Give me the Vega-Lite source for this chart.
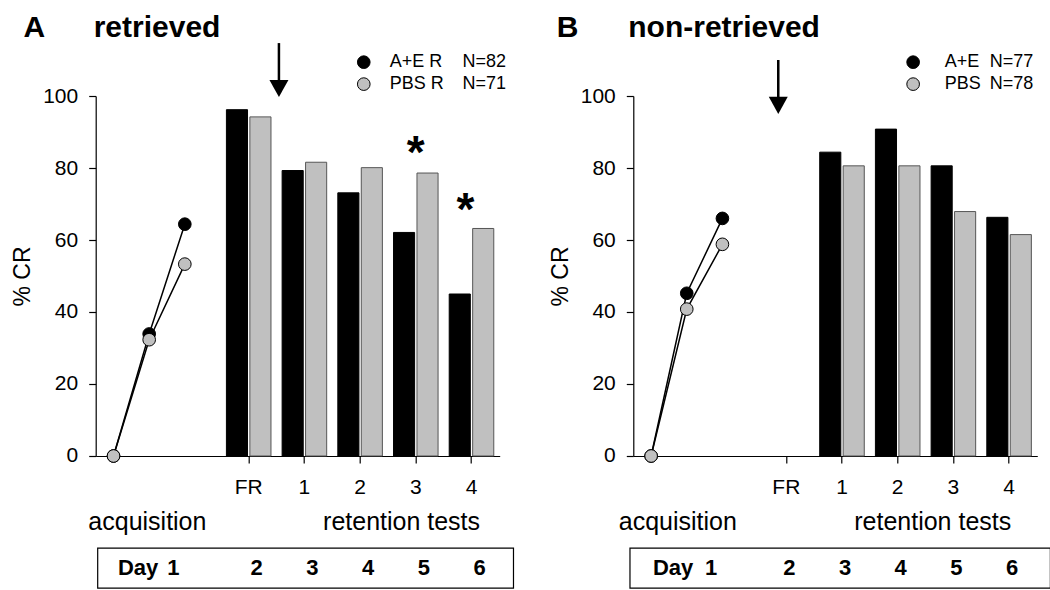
{
  "$schema": "https://vega.github.io/schema/vega-lite/v6.json",
  "background": "white",
  "padding": {"left": 10.7, "top": 12, "right": 0, "bottom": 0},
  "spacing": 133.6,
  "bounds": "flush",
  "config": {
    "font": "Liberation Sans",
    "view": {"stroke": null},
    "axis": {"labelColor": "black", "titleColor": "black", "domainColor": "black", "tickColor": "black", "grid": false, "labelFont": "Liberation Sans", "titleFont": "Liberation Sans"}
  },
  "hconcat": [
    {
      "width": 404,
      "height": 360,
      "encoding": {
        "y": {"field": "v", "type": "quantitative", "scale": {"domain": [0, 100], "nice": false, "zero": false},
          "axis": {"values": [0, 20, 40, 60, 80, 100], "title": "% CR", "tickSize": 7, "labelFontSize": 21, "labelPadding": 11, "titleFontSize": 23, "titleFontWeight": "normal", "titlePadding": 8, "domainWidth": 1.2, "tickWidth": 1.2}}
      },
      "layer": [
        {
          "encoding": {"x": {"field": "pos", "type": "quantitative", "scale": {"domain": [0.5, 11.833], "nice": false, "zero": false}, "axis": null}},
          "layer": [
            {
              "data": {"values": [
                {"pos": 1, "v": 0, "grp": "A+E"}, {"pos": 2, "v": 33.9, "grp": "A+E"}, {"pos": 3, "v": 64.4, "grp": "A+E"},
                {"pos": 1, "v": 0, "grp": "PBS"}, {"pos": 2, "v": 32.3, "grp": "PBS"}, {"pos": 3, "v": 53.3, "grp": "PBS"}
              ]},
              "layer": [
                {"mark": {"type": "line", "color": "black", "strokeWidth": 1.5}, "encoding": {"detail": {"field": "grp"}}},
                {"mark": {"type": "point", "shape": "circle", "filled": true, "size": 160, "stroke": "black", "strokeWidth": 1, "opacity": 1},
                  "encoding": {"fill": {"field": "grp", "type": "nominal", "scale": {"domain": ["A+E", "PBS"], "range": ["black", "#c0c0c0"]}, "legend": null}}}
              ]
            },
            {
              "data": {"values": [{"pos": 5.64, "v": 114.7, "v2": 102.5}]},
              "mark": {"type": "rule", "color": "black", "strokeWidth": 2.5},
              "encoding": {"y2": {"field": "v2"}}
            },
            {
              "data": {"values": [{"pos": 5.64, "v": 102.1}]},
              "mark": {"type": "point", "shape": "M-1,-0.9L1,-0.9L0,0.9Z", "filled": true, "size": 361, "color": "black", "opacity": 1},
              "encoding": {}
            },
            {
              "data": {"values": [{"pos": 8.02, "v": 109.4, "grp": "A+E"}, {"pos": 8.02, "v": 103.3, "grp": "PBS"}]},
              "mark": {"type": "point", "shape": "circle", "filled": true, "size": 160, "stroke": "black", "strokeWidth": 1, "opacity": 1},
              "encoding": {"fill": {"field": "grp", "type": "nominal", "scale": {"domain": ["A+E", "PBS"], "range": ["black", "#c0c0c0"]}, "legend": null}}
            },
            {
              "data": {"values": [
                {"pos": 8.75, "v": 109.4, "label": "A+E R"}, {"pos": 8.75, "v": 103.3, "label": "PBS R"},
                {"pos": 10.79, "v": 109.4, "label": "N=82"}, {"pos": 10.79, "v": 103.3, "label": "N=71"}
              ]},
              "mark": {"type": "text", "align": "left", "baseline": "middle", "fontSize": 18, "color": "black"},
              "encoding": {"text": {"field": "label"}}
            },
            {
              "data": {"values": [{"pos": -1.528, "v": 116.5, "label": "A"}, {"pos": 0.444, "v": 116.5, "label": "retrieved"}]},
              "mark": {"type": "text", "align": "left", "baseline": "alphabetic", "fontSize": 30, "fontWeight": "bold", "color": "black"},
              "encoding": {"text": {"field": "label"}}
            },
            {
              "data": {"values": [{"pos": 1.95, "v": -18.3, "label": "acquisition"}, {"pos": 9.08, "v": -18.3, "label": "retention tests"}]},
              "mark": {"type": "text", "align": "center", "baseline": "middle", "fontSize": 25, "color": "black"},
              "encoding": {"text": {"field": "label"}}
            },
            {
              "data": {"values": [{"pos": 0.556, "pos2": 12.22, "v": -25.6, "v2": -36.7}]},
              "mark": {"type": "rect", "fillOpacity": 0, "stroke": "black", "strokeWidth": 1.2},
              "encoding": {"x2": {"field": "pos2"}, "y2": {"field": "v2"}}
            },
            {
              "data": {"values": [{"pos": 1.125, "v": -31.1, "label": "Day"}]},
              "mark": {"type": "text", "align": "left", "baseline": "middle", "fontSize": 22, "fontWeight": "bold", "color": "black"},
              "encoding": {"text": {"field": "label"}}
            },
            {
              "data": {"values": [{"pos": 2.68, "v": -31.1, "label": "1"}]},
              "mark": {"type": "text", "align": "center", "baseline": "middle", "fontSize": 22, "fontWeight": "bold", "color": "black"},
              "encoding": {"text": {"field": "label"}}
            }
          ]
        },
        {
          "encoding": {"x": {"field": "test", "type": "nominal", "sort": null,
            "scale": {"domain": ["acq1", "acq2", "FR", "1", "2", "3", "4"], "paddingInner": 0.2, "paddingOuter": 0.2266, "align": 0.7655},
            "axis": {"values": ["FR", "1", "2", "3", "4"], "title": null, "tickSize": 7, "labelFontSize": 21, "labelAngle": 0, "labelPadding": 14, "domainWidth": 1.2, "tickWidth": 1.2}}},
          "layer": [
            {
              "data": {"values": [
                {"test": "FR", "grp": "A+E", "v": 96.2}, {"test": "FR", "grp": "PBS", "v": 94.2},
                {"test": "1", "grp": "A+E", "v": 79.3}, {"test": "1", "grp": "PBS", "v": 81.6},
                {"test": "2", "grp": "A+E", "v": 73.1}, {"test": "2", "grp": "PBS", "v": 80.1},
                {"test": "3", "grp": "A+E", "v": 62.1}, {"test": "3", "grp": "PBS", "v": 78.6},
                {"test": "4", "grp": "A+E", "v": 45.0}, {"test": "4", "grp": "PBS", "v": 63.2}
              ]},
              "mark": {"type": "bar", "strokeWidth": 1},
              "encoding": {
                "xOffset": {"field": "grp", "type": "nominal", "scale": {"domain": ["A+E", "PBS"], "paddingInner": 0.1, "paddingOuter": 0}},
                "fill": {"field": "grp", "type": "nominal", "scale": {"domain": ["A+E", "PBS"], "range": ["black", "#c0c0c0"]}, "legend": null},
                "stroke": {"field": "grp", "type": "nominal", "scale": {"domain": ["A+E", "PBS"], "range": ["black", "#555555"]}, "legend": null}
              }
            },
            {
              "data": {"values": [{"test": "3", "v": 80, "label": "*"}]},
              "mark": {"type": "text", "align": "center", "baseline": "alphabetic", "fontSize": 46, "fontWeight": "bold", "color": "black"},
              "encoding": {"text": {"field": "label"}}
            },
            {
              "data": {"values": [{"test": "4", "v": 64.2, "label": "*"}]},
              "mark": {"type": "text", "align": "center", "baseline": "alphabetic", "fontSize": 46, "fontWeight": "bold", "color": "black", "dx": -6},
              "encoding": {"text": {"field": "label"}}
            },
            {
              "data": {"values": [
                {"test": "FR", "v": -31.1, "day": "2"}, {"test": "1", "v": -31.1, "day": "3"}, {"test": "2", "v": -31.1, "day": "4"},
                {"test": "3", "v": -31.1, "day": "5"}, {"test": "4", "v": -31.1, "day": "6"}
              ]},
              "mark": {"type": "text", "align": "center", "baseline": "middle", "fontSize": 22, "fontWeight": "bold", "color": "black", "dx": 8},
              "encoding": {"text": {"field": "day"}}
            }
          ]
        }
      ],
      "resolve": {"scale": {"x": "independent"}, "axis": {"x": "independent"}}
    },
    {
      "width": 404,
      "height": 360,
      "encoding": {
        "y": {"field": "v", "type": "quantitative", "scale": {"domain": [0, 100], "nice": false, "zero": false},
          "axis": {"values": [0, 20, 40, 60, 80, 100], "title": "% CR", "tickSize": 7, "labelFontSize": 21, "labelPadding": 11, "titleFontSize": 23, "titleFontWeight": "normal", "titlePadding": 8, "domainWidth": 1.2, "tickWidth": 1.2}}
      },
      "layer": [
        {
          "encoding": {"x": {"field": "pos", "type": "quantitative", "scale": {"domain": [0.5, 11.833], "nice": false, "zero": false}, "axis": null}},
          "layer": [
            {
              "data": {"values": [
                {"pos": 1, "v": 0, "grp": "A+E"}, {"pos": 2, "v": 45.2, "grp": "A+E"}, {"pos": 3, "v": 66.0, "grp": "A+E"},
                {"pos": 1, "v": 0, "grp": "PBS"}, {"pos": 2, "v": 40.8, "grp": "PBS"}, {"pos": 3, "v": 58.8, "grp": "PBS"}
              ]},
              "layer": [
                {"mark": {"type": "line", "color": "black", "strokeWidth": 1.5}, "encoding": {"detail": {"field": "grp"}}},
                {"mark": {"type": "point", "shape": "circle", "filled": true, "size": 160, "stroke": "black", "strokeWidth": 1, "opacity": 1},
                  "encoding": {"fill": {"field": "grp", "type": "nominal", "scale": {"domain": ["A+E", "PBS"], "range": ["black", "#c0c0c0"]}, "legend": null}}}
              ]
            },
            {
              "data": {"values": [{"pos": 4.567, "v": 110, "v2": 98}]},
              "mark": {"type": "rule", "color": "black", "strokeWidth": 2.5},
              "encoding": {"y2": {"field": "v2"}}
            },
            {
              "data": {"values": [{"pos": 4.567, "v": 97.4}]},
              "mark": {"type": "point", "shape": "M-1,-0.9L1,-0.9L0,0.9Z", "filled": true, "size": 361, "color": "black", "opacity": 1},
              "encoding": {}
            },
            {
              "data": {"values": [{"pos": 8.35, "v": 109.4, "grp": "A+E"}, {"pos": 8.35, "v": 103.3, "grp": "PBS"}]},
              "mark": {"type": "point", "shape": "circle", "filled": true, "size": 160, "stroke": "black", "strokeWidth": 1, "opacity": 1},
              "encoding": {"fill": {"field": "grp", "type": "nominal", "scale": {"domain": ["A+E", "PBS"], "range": ["black", "#c0c0c0"]}, "legend": null}}
            },
            {
              "data": {"values": [
                {"pos": 9.24, "v": 109.4, "label": "A+E"}, {"pos": 9.24, "v": 103.3, "label": "PBS"},
                {"pos": 10.5, "v": 109.4, "label": "N=77"}, {"pos": 10.5, "v": 103.3, "label": "N=78"}
              ]},
              "mark": {"type": "text", "align": "left", "baseline": "middle", "fontSize": 18, "color": "black"},
              "encoding": {"text": {"field": "label"}}
            },
            {
              "data": {"values": [{"pos": -1.65, "v": 116.5, "label": "B"}, {"pos": 0.36, "v": 116.5, "label": "non-retrieved"}]},
              "mark": {"type": "text", "align": "left", "baseline": "alphabetic", "fontSize": 30, "fontWeight": "bold", "color": "black"},
              "encoding": {"text": {"field": "label"}}
            },
            {
              "data": {"values": [{"pos": 1.75, "v": -18.3, "label": "acquisition"}, {"pos": 8.9, "v": -18.3, "label": "retention tests"}]},
              "mark": {"type": "text", "align": "center", "baseline": "middle", "fontSize": 25, "color": "black"},
              "encoding": {"text": {"field": "label"}}
            },
            {
              "data": {"values": [{"pos": 0.407, "pos2": 12.2, "v": -25.6, "v2": -36.7}]},
              "mark": {"type": "rect", "fillOpacity": 0, "stroke": "black", "strokeWidth": 1.2},
              "encoding": {"x2": {"field": "pos2"}, "y2": {"field": "v2"}}
            },
            {
              "data": {"values": [{"pos": 1.05, "v": -31.1, "label": "Day"}]},
              "mark": {"type": "text", "align": "left", "baseline": "middle", "fontSize": 22, "fontWeight": "bold", "color": "black"},
              "encoding": {"text": {"field": "label"}}
            },
            {
              "data": {"values": [{"pos": 2.68, "v": -31.1, "label": "1"}]},
              "mark": {"type": "text", "align": "center", "baseline": "middle", "fontSize": 22, "fontWeight": "bold", "color": "black"},
              "encoding": {"text": {"field": "label"}}
            }
          ]
        },
        {
          "encoding": {"x": {"field": "test", "type": "nominal", "sort": null,
            "scale": {"domain": ["acq1", "acq2", "FR", "1", "2", "3", "4"], "paddingInner": 0.2, "paddingOuter": 0.2266, "align": 0.7655},
            "axis": {"values": ["FR", "1", "2", "3", "4"], "title": null, "tickSize": 7, "labelFontSize": 21, "labelAngle": 0, "labelPadding": 14, "domainWidth": 1.2, "tickWidth": 1.2}}},
          "layer": [
            {
              "data": {"values": [
                {"test": "1", "grp": "A+E", "v": 84.4}, {"test": "1", "grp": "PBS", "v": 80.6},
                {"test": "2", "grp": "A+E", "v": 90.8}, {"test": "2", "grp": "PBS", "v": 80.6},
                {"test": "3", "grp": "A+E", "v": 80.6}, {"test": "3", "grp": "PBS", "v": 67.9},
                {"test": "4", "grp": "A+E", "v": 66.3}, {"test": "4", "grp": "PBS", "v": 61.5}
              ]},
              "mark": {"type": "bar", "strokeWidth": 1},
              "encoding": {
                "xOffset": {"field": "grp", "type": "nominal", "scale": {"domain": ["A+E", "PBS"], "paddingInner": 0.1, "paddingOuter": 0}},
                "fill": {"field": "grp", "type": "nominal", "scale": {"domain": ["A+E", "PBS"], "range": ["black", "#c0c0c0"]}, "legend": null},
                "stroke": {"field": "grp", "type": "nominal", "scale": {"domain": ["A+E", "PBS"], "range": ["black", "#555555"]}, "legend": null}
              }
            },
            {
              "data": {"values": [
                {"test": "FR", "v": -31.1, "day": "2"}, {"test": "1", "v": -31.1, "day": "3"}, {"test": "2", "v": -31.1, "day": "4"},
                {"test": "3", "v": -31.1, "day": "5"}, {"test": "4", "v": -31.1, "day": "6"}
              ]},
              "mark": {"type": "text", "align": "center", "baseline": "middle", "fontSize": 22, "fontWeight": "bold", "color": "black", "dx": 3},
              "encoding": {"text": {"field": "day"}}
            }
          ]
        }
      ],
      "resolve": {"scale": {"x": "independent"}, "axis": {"x": "independent"}}
    }
  ]
}
